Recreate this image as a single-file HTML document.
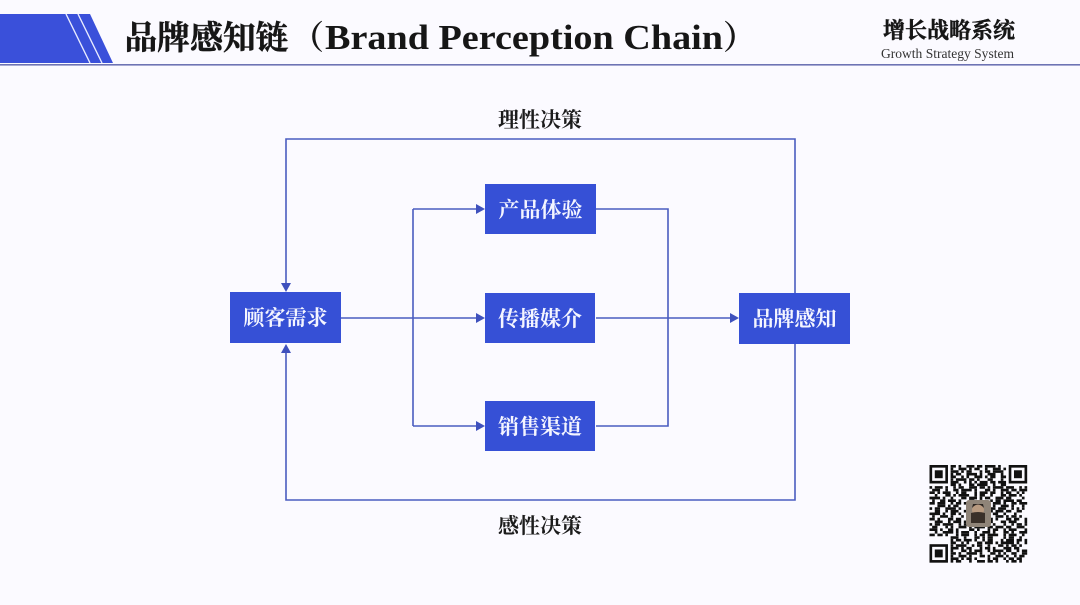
<!DOCTYPE html>
<html lang="zh"><head><meta charset="utf-8"><style>
html,body{margin:0;padding:0}
body{width:1080px;height:605px;overflow:hidden;background:#fbfaff;position:relative}
svg{position:absolute;left:0;top:0}
text{font-family:"Liberation Serif","Noto Serif CJK SC",serif}
.c{font-family:"Noto Serif CJK SC",serif;font-weight:700}
.h{stroke:currentColor;stroke-width:.45px}
</style></head><body>
<svg width="1080" height="605" viewBox="0 0 1080 605">
<rect x="0" y="64" width="1080" height="1.6" fill="#6d73b4"/>
<polygon points="0,14 90,14 113,63 0,63" fill="#3a50da"/>
<path d="M66 14L90 63M78 14L102 63" stroke="#e9ecff" stroke-width="1.4" fill="none"/>
<text class="c h" x="124.500" y="49" font-size="32.8" fill="#161616" color="#161616">品牌感知链</text>
<text class="c" x="291" y="49" font-size="33" fill="#161616">（</text>
<text x="325" y="49" font-size="34.500" font-weight="700" fill="#161616" textLength="398" lengthAdjust="spacingAndGlyphs">Brand Perception Chain</text>
<text class="c" x="723" y="49" font-size="33" fill="#161616">）</text>
<text class="c h" x="883" y="38" font-size="22" fill="#161616" color="#161616">增长战略系统</text>
<text x="881" y="58" font-size="13.2" fill="#333" textLength="133" lengthAdjust="spacingAndGlyphs">Growth Strategy System</text>

<g fill="none" stroke="#4a5cc0" stroke-width="1.6">
<path d="M795 293V139H286V284"/>
<path d="M795 344V500H286V352"/>
<path d="M341 318H413M413 209V426M413 209H477M413 318H477M413 426H477"/>
<path d="M596 209H668V426H596M596 318H731"/>
</g>
<g fill="#3f51bd">
<polygon points="281,283 291,283 286,292"/>
<polygon points="281,353 291,353 286,344"/>
<polygon points="476,204 476,214 485,209"/>
<polygon points="476,313 476,323 485,318"/>
<polygon points="476,421 476,431 485,426"/>
<polygon points="730,313 730,323 739,318"/>
</g>
<g fill="#3650d6">
<rect x="230" y="292" width="111" height="51"/>
<rect x="485" y="184" width="111" height="50"/>
<rect x="485" y="293" width="110" height="50"/>
<rect x="485" y="401" width="110" height="50"/>
<rect x="739" y="293" width="111" height="51"/>
</g>
<g class="c" font-size="21" text-anchor="middle" fill="#f4f5ff">
<text class="c" x="285.500" y="325">顾客需求</text>
<text class="c" x="540.500" y="217">产品体验</text>
<text class="c" x="540" y="326">传播媒介</text>
<text class="c" x="540" y="434">销售渠道</text>
<text class="c" x="794.500" y="326">品牌感知</text>
</g>
<text class="c" x="540" y="127" font-size="21" text-anchor="middle" fill="#1c1c1c">理性决策</text>
<text class="c" x="540" y="533" font-size="21" text-anchor="middle" fill="#1c1c1c">感性决策</text>

<g transform="translate(929.500 465) scale(2.64)">
<g fill="none" stroke="#111" stroke-width="1">
<path stroke-dasharray="2 1 1 2 3 1 2 1 4 1 1 3" d="M8 .5H29"/>
<path stroke-dasharray="1 2 3 1 1 1 2 2 1 2 3" d="M8 1.500H29"/>
<path stroke-dasharray="3 1 1 1 2 3 1 1 2 1 4" d="M8 2.500H29"/>
<path stroke-dasharray="1 1 2 2 4 1 1 2 3 2" d="M8 3.500H29"/>
<path stroke-dasharray="2 2 1 1 1 2 3 1 1 1 2 2" d="M8 4.500H29"/>
<path stroke-dasharray="1 1 4 1 2 1 1 3 2 3" d="M8 5.500H29"/>
<path stroke-dasharray="3 2 1 1 1 1 1 1 3 1 2 1" d="M8 6.500H29"/>
<path stroke-dasharray="2 1 1 3 2 1 4 2 1 2" d="M8 7.500H29"/>
<path stroke-dasharray="1 1 3 1 1 2 1 1 2 2 3 1 2 1 1 1 4 1 3 2" d="M0 8.500H37"/>
<path stroke-dasharray="3 2 1 2 2 1 4 1 1 3 2 1 1 2 3 1 2 1" d="M1 9.500H37"/>
<path stroke-dasharray="2 1 1 1 3 2 1 1 2 3 1 1 3 1 2 2 1 1 2" d="M0 10.500H37"/>
<path stroke-dasharray="1 3 2 1 1 1 4 2 1 1 2 2 1 3 2 1 3 1" d="M2 11.500H37"/>
<path stroke-dasharray="4 1 1 2 1 3 2 1 3 1 1 1 2 2 3 1 2" d="M0 12.500H37"/>
<path stroke-dasharray="1 2 2 1 3 1 1 3 2 2 1 3 1 1 2 1 4" d="M1 13.500H37"/>
<path stroke-dasharray="2 1 3 2 1 1 2 1 1 4 2 1 1 2 3 1 1 2" d="M0 14.500H37"/>
<path stroke-dasharray="3 1 1 1 2 3 4 1 2 3 1 2 3 1 1" d="M3 15.500H37"/>
<path stroke-dasharray="1 1 2 2 4 1 1 2 1 8 2 1 3 2 1 1 1" d="M0 16.500H37"/>
<path stroke-dasharray="2 2 1 1 3 2 1 9 1 1 3 1 2 2 2" d="M2 17.500H37"/>
<path stroke-dasharray="4 1 1 2 2 1 1 9 2 1 2 2 1 3 1" d="M0 18.500H37"/>
<path stroke-dasharray="1 2 3 1 1 3 1 9 1 2 3 1 1 1 2 1" d="M1 19.500H37"/>
<path stroke-dasharray="2 1 1 3 2 1 2 10 2 1 1 3 2 1 2" d="M0 20.500H37"/>
<path stroke-dasharray="3 2 1 1 3 1 1 2 3 1 1 2 1 3 2 1 3" d="M2 21.500H37"/>
<path stroke-dasharray="1 1 2 1 4 2 1 1 2 3 1 1 2 2 1 3 1 2" d="M0 22.500H37"/>
<path stroke-dasharray="2 3 1 1 1 2 3 1 1 1 4 1 2 1 3 1 2" d="M1 23.500H37"/>
<path stroke-dasharray="3 1 1 2 2 1 1 4 2 1 1 3 1 1 2 2 1 1 3" d="M0 24.500H37"/>
<path stroke-dasharray="1 2 4 1 1 1 3 2 1 2 3 1 1 3 2 1" d="M2 25.500H37"/>
<path stroke-dasharray="2 1 2 1 1 3 1 1 3 2 1 1 2 1 4 2 1 1 3" d="M0 26.500H37"/>
<path stroke-dasharray="3 2 1 3 2 1 1 1 2 4 1 1 2 2 1" d="M8 27.500H37"/>
<path stroke-dasharray="1 1 2 1 3 1 1 2 1 1 2 3 1 1 3 1 2 1" d="M8 28.500H37"/>
<path stroke-dasharray="2 2 1 1 1 3 2 1 3 1 1 1 5 1 1 2" d="M8 29.500H37"/>
<path stroke-dasharray="1 1 4 2 1 1 2 2 1 3 2 1 1 1 2" d="M8 30.500H37"/>
<path stroke-dasharray="3 1 1 1 2 3 1 1 2 1 1 3 3 1 2" d="M8 31.500H37"/>
<path stroke-dasharray="1 3 2 1 1 1 3 2 1 1 4 1 2 2 1" d="M8 32.500H37"/>
<path stroke-dasharray="2 1 1 2 4 1 1 3 2 1 1 1 1 2 2 2" d="M8 33.500H37"/>
<path stroke-dasharray="1 2 3 1 1 3 2 1 1 2 3 1 1 2 1" d="M8 34.500H37"/>
<path stroke-dasharray="3 1 1 1 2 1 1 4 1 1 2 2 1 1 2 1 2" d="M8 35.500H37"/>
<path stroke-dasharray="1 1 2 3 1 2 3 1 2 1 1 3 1 1 2" d="M8 36.500H37"/>
</g>
<g fill="none" stroke="#111" stroke-width="1">
<rect x=".5" y=".5" width="6" height="6"/>
<rect x="30.500" y=".5" width="6" height="6"/>
<rect x=".5" y="30.500" width="6" height="6"/>
</g>
<g fill="#111">
<rect x="2" y="2" width="3" height="3"/>
<rect x="32" y="2" width="3" height="3"/>
<rect x="2" y="32" width="3" height="3"/>
</g>
</g>
<rect x="966" y="500" width="25" height="27" rx="3" fill="#8f8478"/>
<circle cx="978" cy="510" r="6" fill="#b89a80"/>
<path d="M971 513q7 -2 14 0v10h-14z" fill="#3a3029"/>
<path d="M972 508q6 -7 12 0l-1 -4h-10z" fill="#2b2521"/>
</svg>
</body></html>
